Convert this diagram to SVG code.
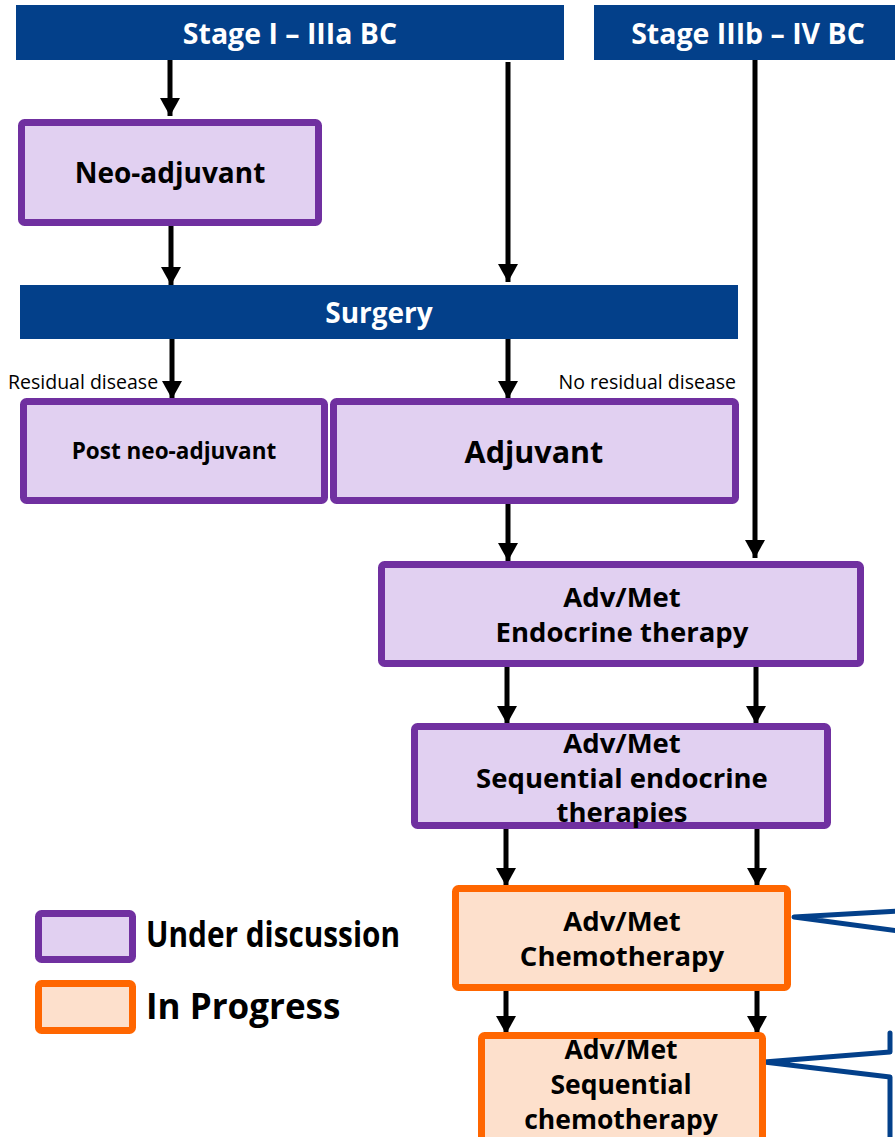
<svg xmlns="http://www.w3.org/2000/svg" width="895" height="1137" viewBox="0 0 895 1137">
<style>
.hdr{fill:#03408a}
.ud{fill:#e1d0f1;stroke:#7030a0;stroke-width:7}
.ip{fill:#fde0cc;stroke:#ff6600;stroke-width:7}
.t{font-family:"Open Sans","Noto Sans",sans-serif;font-weight:bold;fill:#000;text-anchor:middle}
.w{fill:#fff}
.lbl{font-family:"Open Sans","Noto Sans",sans-serif;font-size:19.5px;fill:#000}
.arr{stroke:#000;stroke-width:5;fill:none;marker-end:url(#ah)}
.co{stroke:#03408a;stroke-width:5;fill:none;stroke-linecap:round;stroke-linejoin:round}
</style>
<defs>
<marker id="ah" markerUnits="userSpaceOnUse" markerWidth="20" markerHeight="20" viewBox="0 0 20 20" refX="18" refY="10" orient="auto">
<path d="M0,0 L18,10 L0,20 Z" fill="#000"/>
</marker>
</defs>
<rect width="895" height="1137" fill="#fff"/>
<g id="connectors">
<line class="arr" x1="170" y1="60" x2="170" y2="116"/>
<line class="arr" x1="508" y1="62" x2="508" y2="282"/>
<line class="arr" x1="755" y1="60" x2="755" y2="558"/>
<line class="arr" x1="171" y1="226" x2="171" y2="285"/>
<line class="arr" x1="172" y1="339" x2="172" y2="399"/>
<line class="arr" x1="508" y1="339" x2="508" y2="399"/>
<line class="arr" x1="508" y1="504" x2="508" y2="561"/>
<line class="arr" x1="507" y1="667" x2="507" y2="724"/>
<line class="arr" x1="756" y1="667" x2="756" y2="724"/>
<line class="arr" x1="506" y1="829" x2="506" y2="886"/>
<line class="arr" x1="757" y1="829" x2="757" y2="886"/>
<line class="arr" x1="506" y1="991" x2="506" y2="1034"/>
<line class="arr" x1="757" y1="991" x2="757" y2="1034"/>
<polyline class="co" points="898,911 794,917 898,931"/>
<polyline class="co" points="890,1033 890,1052 764,1062 890,1077 890,1140"/>
</g>
<g id="stage1">
<rect class="hdr" x="16" y="5" width="548" height="55"/>
<text class="t w" x="290" y="44" font-size="28.5">Stage I – IIIa BC</text>
</g>
<g id="stage2">
<rect class="hdr" x="594" y="5" width="305" height="55"/>
<text class="t w" x="748" y="44" font-size="28.5">Stage IIIb – IV BC</text>
</g>
<g id="neoadjuvant">
<rect class="ud" x="21.5" y="122.5" width="297" height="100" rx="3"/>
<text class="t" x="170" y="183" font-size="28">Neo-adjuvant</text>
</g>
<g id="surgery">
<rect class="hdr" x="20" y="285" width="718" height="54"/>
<text class="t w" x="379" y="323" font-size="28">Surgery</text>
</g>
<text class="lbl" x="8" y="389">Residual disease</text>
<text class="lbl" x="736" y="389" text-anchor="end">No residual disease</text>
<g id="postneo">
<rect class="ud" x="23.5" y="401.5" width="301" height="99" rx="3"/>
<text class="t" x="174" y="459" font-size="22.5">Post neo-adjuvant</text>
</g>
<g id="adjuvant">
<rect class="ud" x="333.5" y="401.5" width="402" height="99" rx="3"/>
<text class="t" x="534" y="463" font-size="30.5">Adjuvant</text>
</g>
<g id="endocrine">
<rect class="ud" x="381.5" y="564.5" width="479" height="99" rx="3"/>
<text class="t" x="622" y="607" font-size="27.5">Adv/Met</text>
<text class="t" x="622" y="642" font-size="27.5">Endocrine therapy</text>
</g>
<g id="seqendocrine">
<rect class="ud" x="414.5" y="726.5" width="413" height="99" rx="3"/>
<text class="t" x="622" y="753" font-size="27.5">Adv/Met</text>
<text class="t" x="622" y="788" font-size="27.5">Sequential endocrine</text>
<text class="t" x="622" y="822" font-size="27.5">therapies</text>
</g>
<g id="chemo">
<rect class="ip" x="455.5" y="888.5" width="332" height="99" rx="3"/>
<text class="t" x="622" y="931" font-size="27.5">Adv/Met</text>
<text class="t" x="622" y="966" font-size="27.5">Chemotherapy</text>
</g>
<g id="seqchemo">
<rect class="ip" x="481.5" y="1035.5" width="281" height="110" rx="3"/>
<text class="t" x="621" y="1059" font-size="26.5">Adv/Met</text>
<text class="t" x="621" y="1094" font-size="26.5">Sequential</text>
<text class="t" x="621" y="1129" font-size="26.5">chemotherapy</text>
</g>
<g id="legend">
<rect class="ud" x="38.5" y="913.5" width="94" height="46" rx="3"/>
<text class="t" x="146" y="947" font-size="35" style="text-anchor:start" textLength="254" lengthAdjust="spacingAndGlyphs">Under discussion</text>
<rect class="ip" x="38.5" y="983.5" width="94" height="47" rx="3"/>
<text class="t" x="146" y="1019" font-size="35" style="text-anchor:start">In Progress</text>
</g>
</svg>
